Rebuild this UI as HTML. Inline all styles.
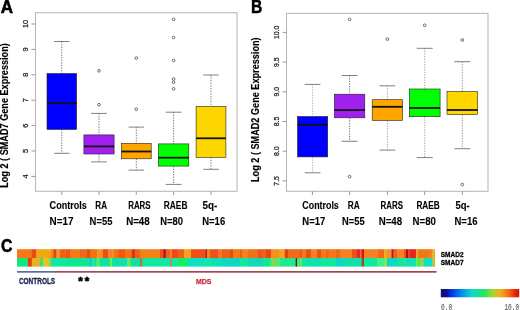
<!DOCTYPE html>
<html><head><meta charset="utf-8"><style>
html,body{margin:0;padding:0;background:#fff;}
body{width:520px;height:310px;overflow:hidden;}
svg{display:block;font-family:"Liberation Sans", sans-serif;will-change:transform;}
</style></head><body>
<svg width="520" height="310" viewBox="0 0 520 310">
<text x="0.8" y="12.6" font-size="17.6" font-weight="bold" fill="#000" text-anchor="start" textLength="12.3" lengthAdjust="spacingAndGlyphs" stroke="#000" stroke-width="0.6">A</text>
<rect x="35.5" y="12.7" width="201.5" height="178.6" fill="none" stroke="#bababa" stroke-width="1.1"/>
<line x1="31.4" y1="176.4" x2="35.5" y2="176.4" stroke="#999" stroke-width="1"/>
<text transform="translate(27.7,176.4) rotate(-90)" font-size="7.4" font-weight="normal" fill="#222" text-anchor="middle" stroke="#222" stroke-width="0.25">4</text>
<line x1="31.4" y1="151" x2="35.5" y2="151" stroke="#999" stroke-width="1"/>
<text transform="translate(27.7,151) rotate(-90)" font-size="7.4" font-weight="normal" fill="#222" text-anchor="middle" stroke="#222" stroke-width="0.25">5</text>
<line x1="31.4" y1="125.6" x2="35.5" y2="125.6" stroke="#999" stroke-width="1"/>
<text transform="translate(27.7,125.6) rotate(-90)" font-size="7.4" font-weight="normal" fill="#222" text-anchor="middle" stroke="#222" stroke-width="0.25">6</text>
<line x1="31.4" y1="100.2" x2="35.5" y2="100.2" stroke="#999" stroke-width="1"/>
<text transform="translate(27.7,100.2) rotate(-90)" font-size="7.4" font-weight="normal" fill="#222" text-anchor="middle" stroke="#222" stroke-width="0.25">7</text>
<line x1="31.4" y1="74.8" x2="35.5" y2="74.8" stroke="#999" stroke-width="1"/>
<text transform="translate(27.7,74.8) rotate(-90)" font-size="7.4" font-weight="normal" fill="#222" text-anchor="middle" stroke="#222" stroke-width="0.25">8</text>
<line x1="31.4" y1="49.4" x2="35.5" y2="49.4" stroke="#999" stroke-width="1"/>
<text transform="translate(27.7,49.4) rotate(-90)" font-size="7.4" font-weight="normal" fill="#222" text-anchor="middle" stroke="#222" stroke-width="0.25">9</text>
<line x1="31.4" y1="24" x2="35.5" y2="24" stroke="#999" stroke-width="1"/>
<text transform="translate(27.7,24) rotate(-90)" font-size="7.4" font-weight="normal" fill="#222" text-anchor="middle" stroke="#222" stroke-width="0.25">10</text>
<line x1="61.8" y1="191.3" x2="61.8" y2="195" stroke="#999" stroke-width="1"/>
<line x1="99" y1="191.3" x2="99" y2="195" stroke="#999" stroke-width="1"/>
<line x1="136.3" y1="191.3" x2="136.3" y2="195" stroke="#999" stroke-width="1"/>
<line x1="173.6" y1="191.3" x2="173.6" y2="195" stroke="#999" stroke-width="1"/>
<line x1="211.1" y1="191.3" x2="211.1" y2="195" stroke="#999" stroke-width="1"/>
<text transform="translate(8,187.8) rotate(-90)" font-size="10" font-weight="bold" fill="#000" text-anchor="start" textLength="144.6" lengthAdjust="spacingAndGlyphs" stroke="#000" stroke-width="0.15">Log 2 ( SMAD7 Gene Expression)</text>
<line x1="61.8" y1="41.5" x2="61.8" y2="73.5" stroke="#666" stroke-width="0.9" stroke-dasharray="1.3 1.3"/>
<line x1="61.8" y1="129.4" x2="61.8" y2="153.3" stroke="#666" stroke-width="0.9" stroke-dasharray="1.3 1.3"/>
<line x1="54.1" y1="41.5" x2="69.5" y2="41.5" stroke="#808080" stroke-width="1"/>
<line x1="54.1" y1="153.3" x2="69.5" y2="153.3" stroke="#808080" stroke-width="1"/>
<rect x="47" y="73.5" width="29.6" height="55.9" fill="#0000ff" stroke="#222" stroke-width="0.6"/>
<line x1="47" y1="103.2" x2="76.6" y2="103.2" stroke="#111" stroke-width="1.8"/>
<line x1="99" y1="113.4" x2="99" y2="134.9" stroke="#666" stroke-width="0.9" stroke-dasharray="1.3 1.3"/>
<line x1="99" y1="154" x2="99" y2="161.9" stroke="#666" stroke-width="0.9" stroke-dasharray="1.3 1.3"/>
<line x1="91.15" y1="113.4" x2="106.85" y2="113.4" stroke="#808080" stroke-width="1"/>
<line x1="91.15" y1="161.9" x2="106.85" y2="161.9" stroke="#808080" stroke-width="1"/>
<rect x="83.9" y="134.9" width="30.2" height="19.1" fill="#a020f0" stroke="#222" stroke-width="0.6"/>
<line x1="83.9" y1="146.4" x2="114.1" y2="146.4" stroke="#111" stroke-width="1.8"/>
<circle cx="99" cy="70.8" r="1.35" fill="none" stroke="#555" stroke-width="0.85"/>
<circle cx="99" cy="104.7" r="1.35" fill="none" stroke="#555" stroke-width="0.85"/>
<line x1="136.3" y1="127.1" x2="136.3" y2="143.3" stroke="#666" stroke-width="0.9" stroke-dasharray="1.3 1.3"/>
<line x1="136.3" y1="158.8" x2="136.3" y2="170.1" stroke="#666" stroke-width="0.9" stroke-dasharray="1.3 1.3"/>
<line x1="128.55" y1="127.1" x2="144.05" y2="127.1" stroke="#808080" stroke-width="1"/>
<line x1="128.55" y1="170.1" x2="144.05" y2="170.1" stroke="#808080" stroke-width="1"/>
<rect x="121.4" y="143.3" width="29.8" height="15.5" fill="#ffa500" stroke="#222" stroke-width="0.6"/>
<line x1="121.4" y1="151.5" x2="151.2" y2="151.5" stroke="#111" stroke-width="1.8"/>
<circle cx="136.3" cy="58.1" r="1.35" fill="none" stroke="#555" stroke-width="0.85"/>
<circle cx="136.3" cy="109.2" r="1.35" fill="none" stroke="#555" stroke-width="0.85"/>
<line x1="173.6" y1="112.2" x2="173.6" y2="143.9" stroke="#666" stroke-width="0.9" stroke-dasharray="1.3 1.3"/>
<line x1="173.6" y1="166.1" x2="173.6" y2="184.4" stroke="#666" stroke-width="0.9" stroke-dasharray="1.3 1.3"/>
<line x1="165.7" y1="112.2" x2="181.5" y2="112.2" stroke="#808080" stroke-width="1"/>
<line x1="165.7" y1="184.4" x2="181.5" y2="184.4" stroke="#808080" stroke-width="1"/>
<rect x="158.4" y="143.9" width="30.4" height="22.2" fill="#00ff00" stroke="#222" stroke-width="0.6"/>
<line x1="158.4" y1="157.7" x2="188.8" y2="157.7" stroke="#111" stroke-width="1.8"/>
<circle cx="173.6" cy="19.4" r="1.35" fill="none" stroke="#555" stroke-width="0.85"/>
<circle cx="173.6" cy="37.5" r="1.35" fill="none" stroke="#555" stroke-width="0.85"/>
<circle cx="173.6" cy="60.4" r="1.35" fill="none" stroke="#555" stroke-width="0.85"/>
<circle cx="173.6" cy="79" r="1.35" fill="none" stroke="#555" stroke-width="0.85"/>
<circle cx="173.6" cy="82.2" r="1.35" fill="none" stroke="#555" stroke-width="0.85"/>
<circle cx="173.6" cy="88.8" r="1.35" fill="none" stroke="#555" stroke-width="0.85"/>
<line x1="211" y1="75" x2="211" y2="106.5" stroke="#666" stroke-width="0.9" stroke-dasharray="1.3 1.3"/>
<line x1="211" y1="157.3" x2="211" y2="169.3" stroke="#666" stroke-width="0.9" stroke-dasharray="1.3 1.3"/>
<line x1="203.25" y1="75" x2="218.75" y2="75" stroke="#808080" stroke-width="1"/>
<line x1="203.25" y1="169.3" x2="218.75" y2="169.3" stroke="#808080" stroke-width="1"/>
<rect x="196.1" y="106.5" width="29.8" height="50.8" fill="#ffd700" stroke="#222" stroke-width="0.6"/>
<line x1="196.1" y1="138.3" x2="225.9" y2="138.3" stroke="#111" stroke-width="1.8"/>
<text x="49.6" y="208.7" font-size="10.4" font-weight="bold" fill="#000" text-anchor="start" textLength="37.2" lengthAdjust="spacingAndGlyphs" stroke="#000" stroke-width="0.12">Controls</text>
<text x="95.3" y="208.7" font-size="10.4" font-weight="bold" fill="#000" text-anchor="start" textLength="11.7" lengthAdjust="spacingAndGlyphs" stroke="#000" stroke-width="0.12">RA</text>
<text x="128.2" y="208.7" font-size="10.4" font-weight="bold" fill="#000" text-anchor="start" textLength="22.4" lengthAdjust="spacingAndGlyphs" stroke="#000" stroke-width="0.12">RARS</text>
<text x="163.8" y="208.7" font-size="10.4" font-weight="bold" fill="#000" text-anchor="start" textLength="23.6" lengthAdjust="spacingAndGlyphs" stroke="#000" stroke-width="0.12">RAEB</text>
<text x="202.6" y="208.7" font-size="10.4" font-weight="bold" fill="#000" text-anchor="start" textLength="14.8" lengthAdjust="spacingAndGlyphs" stroke="#000" stroke-width="0.12">5q-</text>
<text x="49.6" y="224.5" font-size="10.8" font-weight="bold" fill="#000" text-anchor="start" textLength="23.9" lengthAdjust="spacingAndGlyphs" stroke="#000" stroke-width="0.12">N=17</text>
<text x="89.6" y="224.5" font-size="10.8" font-weight="bold" fill="#000" text-anchor="start" textLength="22.8" lengthAdjust="spacingAndGlyphs" stroke="#000" stroke-width="0.12">N=55</text>
<text x="126.2" y="224.5" font-size="10.8" font-weight="bold" fill="#000" text-anchor="start" textLength="23.5" lengthAdjust="spacingAndGlyphs" stroke="#000" stroke-width="0.12">N=48</text>
<text x="160.3" y="224.5" font-size="10.8" font-weight="bold" fill="#000" text-anchor="start" textLength="22.7" lengthAdjust="spacingAndGlyphs" stroke="#000" stroke-width="0.12">N=80</text>
<text x="202.2" y="224.5" font-size="10.8" font-weight="bold" fill="#000" text-anchor="start" textLength="23" lengthAdjust="spacingAndGlyphs" stroke="#000" stroke-width="0.12">N=16</text>
<text x="251" y="12.6" font-size="17.6" font-weight="bold" fill="#000" text-anchor="start" textLength="11.3" lengthAdjust="spacingAndGlyphs" stroke="#000" stroke-width="0.45">B</text>
<rect x="286.5" y="13.4" width="201.5" height="177.9" fill="none" stroke="#bababa" stroke-width="1.1"/>
<line x1="282.6" y1="32.4" x2="286.5" y2="32.4" stroke="#999" stroke-width="1"/>
<text transform="translate(278.5,32.4) rotate(-90)" font-size="6.9" font-weight="normal" fill="#222" text-anchor="middle" stroke="#222" stroke-width="0.25">10.0</text>
<line x1="282.6" y1="62.1" x2="286.5" y2="62.1" stroke="#999" stroke-width="1"/>
<text transform="translate(278.5,62.1) rotate(-90)" font-size="6.9" font-weight="normal" fill="#222" text-anchor="middle" stroke="#222" stroke-width="0.25">9.5</text>
<line x1="282.6" y1="91.8" x2="286.5" y2="91.8" stroke="#999" stroke-width="1"/>
<text transform="translate(278.5,91.8) rotate(-90)" font-size="6.9" font-weight="normal" fill="#222" text-anchor="middle" stroke="#222" stroke-width="0.25">9.0</text>
<line x1="282.6" y1="121.5" x2="286.5" y2="121.5" stroke="#999" stroke-width="1"/>
<text transform="translate(278.5,121.5) rotate(-90)" font-size="6.9" font-weight="normal" fill="#222" text-anchor="middle" stroke="#222" stroke-width="0.25">8.5</text>
<line x1="282.6" y1="151.2" x2="286.5" y2="151.2" stroke="#999" stroke-width="1"/>
<text transform="translate(278.5,151.2) rotate(-90)" font-size="6.9" font-weight="normal" fill="#222" text-anchor="middle" stroke="#222" stroke-width="0.25">8.0</text>
<line x1="282.6" y1="180.9" x2="286.5" y2="180.9" stroke="#999" stroke-width="1"/>
<text transform="translate(278.5,180.9) rotate(-90)" font-size="6.9" font-weight="normal" fill="#222" text-anchor="middle" stroke="#222" stroke-width="0.25">7.5</text>
<line x1="312.4" y1="191.3" x2="312.4" y2="195" stroke="#999" stroke-width="1"/>
<line x1="349.6" y1="191.3" x2="349.6" y2="195" stroke="#999" stroke-width="1"/>
<line x1="387.5" y1="191.3" x2="387.5" y2="195" stroke="#999" stroke-width="1"/>
<line x1="424.6" y1="191.3" x2="424.6" y2="195" stroke="#999" stroke-width="1"/>
<line x1="462.3" y1="191.3" x2="462.3" y2="195" stroke="#999" stroke-width="1"/>
<text transform="translate(258.9,182) rotate(-90)" font-size="10" font-weight="bold" fill="#000" text-anchor="start" textLength="144.6" lengthAdjust="spacingAndGlyphs" stroke="#000" stroke-width="0.15">Log 2 ( SMAD2 Gene Expression)</text>
<line x1="312.6" y1="84.4" x2="312.6" y2="116.5" stroke="#aaa" stroke-width="0.9" stroke-dasharray="1.3 1.3"/>
<line x1="312.6" y1="156.9" x2="312.6" y2="172.8" stroke="#aaa" stroke-width="0.9" stroke-dasharray="1.3 1.3"/>
<line x1="304.75" y1="84.4" x2="320.45" y2="84.4" stroke="#808080" stroke-width="1"/>
<line x1="304.75" y1="172.8" x2="320.45" y2="172.8" stroke="#808080" stroke-width="1"/>
<rect x="297.5" y="116.5" width="30.2" height="40.4" fill="#0000ff" stroke="#222" stroke-width="0.6"/>
<line x1="297.5" y1="124.7" x2="327.7" y2="124.7" stroke="#111" stroke-width="1.8"/>
<line x1="349.6" y1="75.5" x2="349.6" y2="94.2" stroke="#666" stroke-width="0.9" stroke-dasharray="1.3 1.3"/>
<line x1="349.6" y1="117.8" x2="349.6" y2="141.3" stroke="#666" stroke-width="0.9" stroke-dasharray="1.3 1.3"/>
<line x1="341.7" y1="75.5" x2="357.5" y2="75.5" stroke="#808080" stroke-width="1"/>
<line x1="341.7" y1="141.3" x2="357.5" y2="141.3" stroke="#808080" stroke-width="1"/>
<rect x="334.4" y="94.2" width="30.4" height="23.6" fill="#a020f0" stroke="#222" stroke-width="0.6"/>
<line x1="334.4" y1="110.1" x2="364.8" y2="110.1" stroke="#111" stroke-width="1.8"/>
<circle cx="349.6" cy="19.5" r="1.35" fill="none" stroke="#555" stroke-width="0.85"/>
<circle cx="349.6" cy="176.6" r="1.35" fill="none" stroke="#555" stroke-width="0.85"/>
<line x1="387.4" y1="85.8" x2="387.4" y2="99.7" stroke="#999" stroke-width="0.9" stroke-dasharray="1.3 1.3"/>
<line x1="387.4" y1="120.5" x2="387.4" y2="150.1" stroke="#999" stroke-width="0.9" stroke-dasharray="1.3 1.3"/>
<line x1="379.5" y1="85.8" x2="395.3" y2="85.8" stroke="#808080" stroke-width="1"/>
<line x1="379.5" y1="150.1" x2="395.3" y2="150.1" stroke="#808080" stroke-width="1"/>
<rect x="372.2" y="99.7" width="30.4" height="20.8" fill="#ffa500" stroke="#222" stroke-width="0.6"/>
<line x1="372.2" y1="106.8" x2="402.6" y2="106.8" stroke="#111" stroke-width="1.8"/>
<circle cx="387.4" cy="39.1" r="1.35" fill="none" stroke="#555" stroke-width="0.85"/>
<line x1="424.7" y1="48.3" x2="424.7" y2="89" stroke="#999" stroke-width="0.9" stroke-dasharray="1.3 1.3"/>
<line x1="424.7" y1="116.7" x2="424.7" y2="157.6" stroke="#999" stroke-width="0.9" stroke-dasharray="1.3 1.3"/>
<line x1="416.69" y1="48.3" x2="432.71" y2="48.3" stroke="#808080" stroke-width="1"/>
<line x1="416.69" y1="157.6" x2="432.71" y2="157.6" stroke="#808080" stroke-width="1"/>
<rect x="409.3" y="89" width="30.8" height="27.7" fill="#00ff00" stroke="#222" stroke-width="0.6"/>
<line x1="409.3" y1="108" x2="440.1" y2="108" stroke="#111" stroke-width="1.8"/>
<circle cx="424.7" cy="25.3" r="1.35" fill="none" stroke="#555" stroke-width="0.85"/>
<line x1="462.3" y1="61.7" x2="462.3" y2="91.5" stroke="#888" stroke-width="0.9" stroke-dasharray="1.3 1.3"/>
<line x1="462.3" y1="114.6" x2="462.3" y2="148.7" stroke="#888" stroke-width="0.9" stroke-dasharray="1.3 1.3"/>
<line x1="454.34" y1="61.7" x2="470.26" y2="61.7" stroke="#808080" stroke-width="1"/>
<line x1="454.34" y1="148.7" x2="470.26" y2="148.7" stroke="#808080" stroke-width="1"/>
<rect x="447" y="91.5" width="30.6" height="23.1" fill="#ffd700" stroke="#222" stroke-width="0.6"/>
<line x1="447" y1="110" x2="477.6" y2="110" stroke="#111" stroke-width="1.8"/>
<circle cx="462.3" cy="40" r="1.35" fill="none" stroke="#555" stroke-width="0.85"/>
<circle cx="462.3" cy="184.5" r="1.35" fill="none" stroke="#555" stroke-width="0.85"/>
<text x="302.3" y="209.4" font-size="10.4" font-weight="bold" fill="#000" text-anchor="start" textLength="36.5" lengthAdjust="spacingAndGlyphs" stroke="#000" stroke-width="0.12">Controls</text>
<text x="347.7" y="209.4" font-size="10.4" font-weight="bold" fill="#000" text-anchor="start" textLength="12" lengthAdjust="spacingAndGlyphs" stroke="#000" stroke-width="0.12">RA</text>
<text x="380.5" y="209.4" font-size="10.4" font-weight="bold" fill="#000" text-anchor="start" textLength="22.5" lengthAdjust="spacingAndGlyphs" stroke="#000" stroke-width="0.12">RARS</text>
<text x="416.4" y="209.4" font-size="10.4" font-weight="bold" fill="#000" text-anchor="start" textLength="23.3" lengthAdjust="spacingAndGlyphs" stroke="#000" stroke-width="0.12">RAEB</text>
<text x="455.5" y="209.4" font-size="10.4" font-weight="bold" fill="#000" text-anchor="start" textLength="14.2" lengthAdjust="spacingAndGlyphs" stroke="#000" stroke-width="0.12">5q-</text>
<text x="302.3" y="225" font-size="10.8" font-weight="bold" fill="#000" text-anchor="start" textLength="23" lengthAdjust="spacingAndGlyphs" stroke="#000" stroke-width="0.12">N=17</text>
<text x="342" y="225" font-size="10.8" font-weight="bold" fill="#000" text-anchor="start" textLength="22.6" lengthAdjust="spacingAndGlyphs" stroke="#000" stroke-width="0.12">N=55</text>
<text x="378.7" y="225" font-size="10.8" font-weight="bold" fill="#000" text-anchor="start" textLength="23.4" lengthAdjust="spacingAndGlyphs" stroke="#000" stroke-width="0.12">N=48</text>
<text x="412.6" y="225" font-size="10.8" font-weight="bold" fill="#000" text-anchor="start" textLength="23.3" lengthAdjust="spacingAndGlyphs" stroke="#000" stroke-width="0.12">N=80</text>
<text x="454.5" y="225" font-size="10.8" font-weight="bold" fill="#000" text-anchor="start" textLength="23" lengthAdjust="spacingAndGlyphs" stroke="#000" stroke-width="0.12">N=16</text>
<text x="0.9" y="251.6" font-size="18.4" font-weight="bold" fill="#000" text-anchor="start" textLength="11.4" lengthAdjust="spacingAndGlyphs" stroke="#000" stroke-width="0.6">C</text>
<rect x="17" y="249.2" width="14.7" height="8.8" fill="#f87818"/>
<rect x="31.4" y="249.2" width="5.3" height="8.8" fill="#f04818"/>
<rect x="36.4" y="249.2" width="14.7" height="8.8" fill="#f0a810"/>
<rect x="50.8" y="249.2" width="2.8" height="8.8" fill="#f88020"/>
<rect x="53.3" y="249.2" width="3.5" height="8.8" fill="#e04810"/>
<rect x="56.5" y="249.2" width="3.8" height="8.8" fill="#f89030"/>
<rect x="60" y="249.2" width="5.8" height="8.8" fill="#f06010"/>
<rect x="65.5" y="249.2" width="4.8" height="8.8" fill="#f05810"/>
<rect x="70" y="249.2" width="10.3" height="8.8" fill="#f87818"/>
<rect x="80" y="249.2" width="7.3" height="8.8" fill="#f06818"/>
<rect x="87" y="249.2" width="3.3" height="8.8" fill="#e05010"/>
<rect x="90" y="249.2" width="7.7" height="8.8" fill="#f87010"/>
<rect x="97.4" y="249.2" width="5.7" height="8.8" fill="#f89020"/>
<rect x="102.8" y="249.2" width="5.7" height="8.8" fill="#e85010"/>
<rect x="108.2" y="249.2" width="4.1" height="8.8" fill="#f88020"/>
<rect x="112" y="249.2" width="2.3" height="8.8" fill="#f89020"/>
<rect x="114" y="249.2" width="4.3" height="8.8" fill="#f87010"/>
<rect x="118" y="249.2" width="2.3" height="8.8" fill="#f06010"/>
<rect x="120" y="249.2" width="5.3" height="8.8" fill="#f05810"/>
<rect x="125" y="249.2" width="6.8" height="8.8" fill="#f87010"/>
<rect x="131.5" y="249.2" width="3.8" height="8.8" fill="#d83810"/>
<rect x="135" y="249.2" width="5.3" height="8.8" fill="#f06018"/>
<rect x="140" y="249.2" width="20.3" height="8.8" fill="#f88018"/>
<rect x="160" y="249.2" width="3.6" height="8.8" fill="#f05020"/>
<rect x="163.3" y="249.2" width="2.7" height="8.8" fill="#b01010"/>
<rect x="165.7" y="249.2" width="4.6" height="8.8" fill="#f06020"/>
<rect x="170" y="249.2" width="2.3" height="8.8" fill="#f88020"/>
<rect x="172" y="249.2" width="6.3" height="8.8" fill="#f04818"/>
<rect x="178" y="249.2" width="6.3" height="8.8" fill="#f06018"/>
<rect x="184" y="249.2" width="7.3" height="8.8" fill="#f8a020"/>
<rect x="191" y="249.2" width="10.3" height="8.8" fill="#f05018"/>
<rect x="201" y="249.2" width="4.6" height="8.8" fill="#f05018"/>
<rect x="205.3" y="249.2" width="2.2" height="8.8" fill="#b02010"/>
<rect x="207.2" y="249.2" width="3.1" height="8.8" fill="#f88020"/>
<rect x="210" y="249.2" width="8.3" height="8.8" fill="#f05020"/>
<rect x="218" y="249.2" width="4.3" height="8.8" fill="#f07820"/>
<rect x="222" y="249.2" width="8.3" height="8.8" fill="#f06018"/>
<rect x="230" y="249.2" width="3.3" height="8.8" fill="#e05010"/>
<rect x="233" y="249.2" width="7.3" height="8.8" fill="#f87818"/>
<rect x="240" y="249.2" width="2.3" height="8.8" fill="#f06018"/>
<rect x="242" y="249.2" width="6.3" height="8.8" fill="#f88018"/>
<rect x="248" y="249.2" width="10.3" height="8.8" fill="#f07018"/>
<rect x="258" y="249.2" width="4.3" height="8.8" fill="#e85818"/>
<rect x="262" y="249.2" width="4.3" height="8.8" fill="#f06018"/>
<rect x="266" y="249.2" width="5.3" height="8.8" fill="#e84818"/>
<rect x="271" y="249.2" width="8.3" height="8.8" fill="#f89020"/>
<rect x="279" y="249.2" width="6.1" height="8.8" fill="#f8a020"/>
<rect x="284.8" y="249.2" width="3.4" height="8.8" fill="#e04010"/>
<rect x="287.9" y="249.2" width="12.4" height="8.8" fill="#f06818"/>
<rect x="300" y="249.2" width="2.3" height="8.8" fill="#f05818"/>
<rect x="302" y="249.2" width="4.3" height="8.8" fill="#f87818"/>
<rect x="306" y="249.2" width="5.3" height="8.8" fill="#e85018"/>
<rect x="311" y="249.2" width="6.3" height="8.8" fill="#f88020"/>
<rect x="317" y="249.2" width="4.3" height="8.8" fill="#f05018"/>
<rect x="321" y="249.2" width="5.3" height="8.8" fill="#f87818"/>
<rect x="326" y="249.2" width="3.3" height="8.8" fill="#f06818"/>
<rect x="329" y="249.2" width="7.3" height="8.8" fill="#f87818"/>
<rect x="336" y="249.2" width="4.3" height="8.8" fill="#f06818"/>
<rect x="340" y="249.2" width="12.3" height="8.8" fill="#f88020"/>
<rect x="352" y="249.2" width="4.9" height="8.8" fill="#f05018"/>
<rect x="356.6" y="249.2" width="3.7" height="8.8" fill="#e82818"/>
<rect x="360" y="249.2" width="1.9" height="8.8" fill="#f86048"/>
<rect x="361.6" y="249.2" width="2.7" height="8.8" fill="#c02010"/>
<rect x="364" y="249.2" width="6.3" height="8.8" fill="#f88020"/>
<rect x="370" y="249.2" width="8.3" height="8.8" fill="#f88020"/>
<rect x="378" y="249.2" width="6.5" height="8.8" fill="#f06818"/>
<rect x="384.2" y="249.2" width="3.1" height="8.8" fill="#f0a820"/>
<rect x="387" y="249.2" width="4.8" height="8.8" fill="#f89030"/>
<rect x="391.5" y="249.2" width="2.3" height="8.8" fill="#b01810"/>
<rect x="393.5" y="249.2" width="3.8" height="8.8" fill="#f06020"/>
<rect x="397" y="249.2" width="7.3" height="8.8" fill="#f88020"/>
<rect x="404" y="249.2" width="2.3" height="8.8" fill="#f05020"/>
<rect x="406" y="249.2" width="2.2" height="8.8" fill="#a81010"/>
<rect x="407.9" y="249.2" width="2.4" height="8.8" fill="#f04028"/>
<rect x="410" y="249.2" width="6.3" height="8.8" fill="#e02818"/>
<rect x="416" y="249.2" width="2.3" height="8.8" fill="#f8a030"/>
<rect x="418" y="249.2" width="11.3" height="8.8" fill="#f07818"/>
<rect x="429" y="249.2" width="3.3" height="8.8" fill="#f88020"/>
<rect x="432" y="249.2" width="3.1" height="8.8" fill="#e8b030"/>
<rect x="17" y="258" width="11.2" height="8.6" fill="#10e880"/>
<rect x="27.9" y="258" width="4.2" height="8.6" fill="#e04010"/>
<rect x="31.8" y="258" width="8" height="8.6" fill="#eab020"/>
<rect x="39.5" y="258" width="3.8" height="8.6" fill="#40e070"/>
<rect x="43" y="258" width="5.8" height="8.6" fill="#e8c020"/>
<rect x="48.5" y="258" width="2.8" height="8.6" fill="#a0d040"/>
<rect x="51" y="258" width="15.3" height="8.6" fill="#10e8a0"/>
<rect x="66" y="258" width="22.8" height="8.6" fill="#10e890"/>
<rect x="88.5" y="258" width="3.8" height="8.6" fill="#10d0c0"/>
<rect x="92" y="258" width="3.3" height="8.6" fill="#20e890"/>
<rect x="95" y="258" width="1.9" height="8.6" fill="#10e0a0"/>
<rect x="96.6" y="258" width="3.4" height="8.6" fill="#50f060"/>
<rect x="99.7" y="258" width="10.6" height="8.6" fill="#10e0a0"/>
<rect x="110" y="258" width="2.3" height="8.6" fill="#70f050"/>
<rect x="112" y="258" width="6.3" height="8.6" fill="#10e0a0"/>
<rect x="118" y="258" width="9.8" height="8.6" fill="#10e0b0"/>
<rect x="127.5" y="258" width="3.2" height="8.6" fill="#70e850"/>
<rect x="130.4" y="258" width="9.9" height="8.6" fill="#10e0a0"/>
<rect x="140" y="258" width="2.8" height="8.6" fill="#a08040"/>
<rect x="142.5" y="258" width="27.8" height="8.6" fill="#10e8a0"/>
<rect x="170" y="258" width="2.3" height="8.6" fill="#b09060"/>
<rect x="172" y="258" width="5.8" height="8.6" fill="#10e8a0"/>
<rect x="177.5" y="258" width="9.8" height="8.6" fill="#10f060"/>
<rect x="187" y="258" width="18.3" height="8.6" fill="#10e0c0"/>
<rect x="205" y="258" width="7.3" height="8.6" fill="#10e8a8"/>
<rect x="212" y="258" width="10.3" height="8.6" fill="#10e0b8"/>
<rect x="222" y="258" width="18.3" height="8.6" fill="#10d8c0"/>
<rect x="240" y="258" width="8.3" height="8.6" fill="#10e8a0"/>
<rect x="248" y="258" width="15.3" height="8.6" fill="#10d8b8"/>
<rect x="263" y="258" width="7.3" height="8.6" fill="#10e890"/>
<rect x="270" y="258" width="2.3" height="8.6" fill="#50e860"/>
<rect x="272" y="258" width="2.3" height="8.6" fill="#a0d040"/>
<rect x="274" y="258" width="6.3" height="8.6" fill="#50e870"/>
<rect x="280" y="258" width="15.9" height="8.6" fill="#20e890"/>
<rect x="295.6" y="258" width="1.9" height="8.6" fill="#602010"/>
<rect x="297.2" y="258" width="3.1" height="8.6" fill="#40e880"/>
<rect x="300" y="258" width="2.3" height="8.6" fill="#60e860"/>
<rect x="302" y="258" width="6.3" height="8.6" fill="#10e8a0"/>
<rect x="308" y="258" width="12.3" height="8.6" fill="#10e0b0"/>
<rect x="320" y="258" width="16.3" height="8.6" fill="#10e8a0"/>
<rect x="336" y="258" width="10.3" height="8.6" fill="#10d8c0"/>
<rect x="346" y="258" width="15.9" height="8.6" fill="#10e0a8"/>
<rect x="361.6" y="258" width="2.7" height="8.6" fill="#905030"/>
<rect x="364" y="258" width="13.3" height="8.6" fill="#10e8a0"/>
<rect x="377" y="258" width="7.8" height="8.6" fill="#40f080"/>
<rect x="384.5" y="258" width="2.8" height="8.6" fill="#90e050"/>
<rect x="387" y="258" width="11.3" height="8.6" fill="#10d8c0"/>
<rect x="398" y="258" width="6.3" height="8.6" fill="#10e8a0"/>
<rect x="404" y="258" width="2.3" height="8.6" fill="#20e890"/>
<rect x="406" y="258" width="10.3" height="8.6" fill="#10e0b8"/>
<rect x="416" y="258" width="2.3" height="8.6" fill="#60f050"/>
<rect x="418" y="258" width="2.3" height="8.6" fill="#40e870"/>
<rect x="420" y="258" width="3.8" height="8.6" fill="#a0d040"/>
<rect x="423.5" y="258" width="8.8" height="8.6" fill="#10e0c0"/>
<rect x="432" y="258" width="3.1" height="8.6" fill="#c0c040"/>
<defs><linearGradient id="lg" x1="17" x2="436.5" y1="0" y2="0" gradientUnits="userSpaceOnUse"><stop offset="0" stop-color="#5070a8"/><stop offset="0.086" stop-color="#5870a0"/><stop offset="0.093" stop-color="#a84858"/><stop offset="1" stop-color="#a84050"/></linearGradient><linearGradient id="jet" x1="0" x2="1" y1="0" y2="0"><stop offset="0" stop-color="#10107a"/><stop offset="0.07" stop-color="#101088"/><stop offset="0.13" stop-color="#0030e8"/><stop offset="0.27" stop-color="#0090e8"/><stop offset="0.4" stop-color="#10d8d0"/><stop offset="0.55" stop-color="#20e860"/><stop offset="0.66" stop-color="#a0d830"/><stop offset="0.76" stop-color="#f0b020"/><stop offset="0.86" stop-color="#f87010"/><stop offset="0.95" stop-color="#e82010"/><stop offset="1" stop-color="#d01010"/></linearGradient></defs>
<rect x="17" y="271" width="419.5" height="1.7" fill="url(#lg)"/>
<text x="18.9" y="283.8" font-size="8.2" font-weight="bold" fill="#1a2050" text-anchor="start" textLength="36.3" lengthAdjust="spacingAndGlyphs" stroke="#1a2050" stroke-width="0.3">CONTROLS</text>
<text x="80.5" y="285" font-size="11.5" font-weight="bold" fill="#000" text-anchor="middle" stroke="#000" stroke-width="0.7">*</text>
<text x="87.1" y="285" font-size="11.5" font-weight="bold" fill="#000" text-anchor="middle" stroke="#000" stroke-width="0.7">*</text>
<text x="196" y="283.6" font-size="8" font-weight="bold" fill="#c8283a" text-anchor="start" textLength="15.4" lengthAdjust="spacingAndGlyphs" stroke="#c8283a" stroke-width="0.25">MDS</text>
<text x="440.8" y="256.8" font-size="7.1" font-weight="bold" fill="#000" text-anchor="start" textLength="22.7" lengthAdjust="spacingAndGlyphs" stroke="#000" stroke-width="0.3">SMAD2</text>
<text x="440.8" y="265.4" font-size="7.1" font-weight="bold" fill="#000" text-anchor="start" textLength="22.7" lengthAdjust="spacingAndGlyphs" stroke="#000" stroke-width="0.3">SMAD7</text>
<rect x="440.8" y="289" width="78.4" height="8.3" fill="url(#jet)"/>
<text x="441" y="309.9" font-family="Liberation Mono, monospace" font-size="9" fill="#5a5a5a" stroke="#5a5a5a" stroke-width="0.1" textLength="11.2" lengthAdjust="spacingAndGlyphs">0.0</text>
<text x="504.4" y="309.9" font-family="Liberation Mono, monospace" font-size="9" fill="#5a5a5a" stroke="#5a5a5a" stroke-width="0.1" textLength="14.8" lengthAdjust="spacingAndGlyphs">10.0</text>
</svg>
</body></html>
